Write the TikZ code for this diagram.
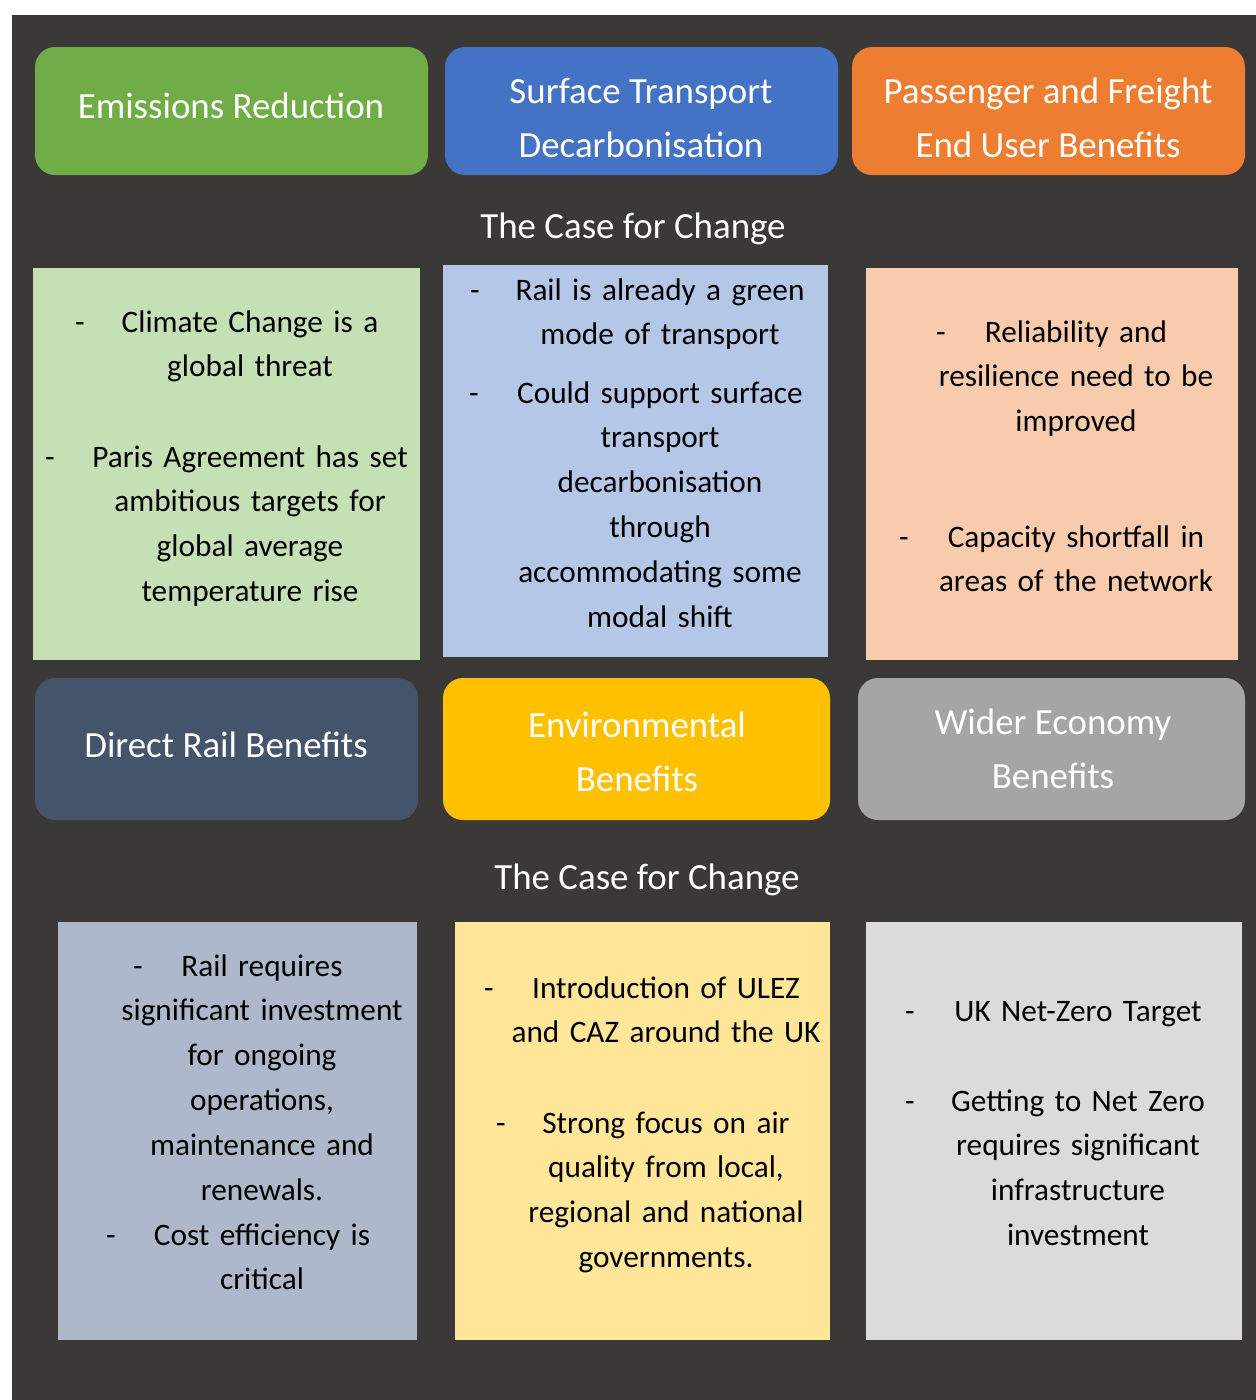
\documentclass[tikz,border=0pt]{standalone}
\usepackage{fontspec}
\setmainfont{Carlito}
\definecolor{bgdark}{HTML}{3A3937}
\definecolor{hgreen}{HTML}{70AD47}
\definecolor{hblue}{HTML}{4472C4}
\definecolor{horange}{HTML}{ED7D31}
\definecolor{hslate}{HTML}{44546A}
\definecolor{hgold}{HTML}{FFC000}
\definecolor{hgray}{HTML}{A5A5A5}
\definecolor{cgreen}{HTML}{C5E0B4}
\definecolor{cblue}{HTML}{B4C7E7}
\definecolor{corange}{HTML}{F8CBAD}
\definecolor{cslate}{HTML}{ADB9CA}
\definecolor{cgold}{HTML}{FFE699}
\definecolor{cgray}{HTML}{DBDBDB}
\tikzset{
  headbox/.style={rounded corners=0.4cm, draw=none},
  bodybox/.style={draw=none},
  headtxt/.style={text=white, align=center, font=\fontsize{21}{30.6}\selectfont, inner sep=0pt},
  titletxt/.style={text=white, anchor=base, font=\fontsize{21}{30.6}\selectfont, inner sep=0pt},
  bodytxt/.style={text=black, anchor=base, align=center, text width=7.6cm, font=\fontsize{17.8}{25.6}\selectfont, inner sep=0pt},
  dashtxt/.style={text=black, anchor=base, font=\fontsize{17.8}{25.6}\selectfont, inner sep=0pt},
}
\begin{document}
\begin{tikzpicture}[x=0.02cm,y=-0.02cm]
\useasboundingbox (0,0) rectangle (1256,1400);
\fill[white] (0,0) rectangle (1256,1400);
\fill[bgdark] (12,15) rectangle (1256,1400);

% row 1 headers
\fill[headbox, hgreen] (35,47) rectangle (428,175);
\fill[headbox, hblue] (445,47) rectangle (838,175);
\fill[headbox, horange] (852,47) rectangle (1245,175);
\node[headtxt] (h1) at (231,106) {Emissions Reduction};
\node[headtxt] (h2) at (641,118) {Surface Transport\\Decarbonisation};
\node[headtxt] (h3) at (1048,118) {Passenger and Freight\\End User Benefits};

\node[titletxt] (t1) at (633,238) {The Case for Change};

% row 2 content
\fill[bodybox, cgreen] (33,268) rectangle (420,660);
\fill[bodybox, cblue] (443,265) rectangle (828,657);
\fill[bodybox, corange] (866,268) rectangle (1238,660);

\node[dashtxt] (d1) at (80,332) {-};
\node[bodytxt] (b1) at (250,332) {Climate Change is a\\global threat};
\node[dashtxt] (d2) at (50,467) {-};
\node[bodytxt] (b2) at (250,467) {Paris Agreement has set\\ambitious targets for\\global average\\temperature rise};

\node[dashtxt] (d3) at (475,300) {-};
\node[bodytxt] (b3) at (660,300) {Rail is already a green\\mode of transport};
\node[dashtxt] (d4) at (474,403) {-};
\node[bodytxt] (b4) at (660,403) {Could support surface\\transport\\decarbonisation\\through\\accommodating some\\modal shift};

\node[dashtxt] (d5) at (941,342) {-};
\node[bodytxt] (b5) at (1076,342) {Reliability and\\resilience need to be\\improved};
\node[dashtxt] (d6) at (904,547) {-};
\node[bodytxt] (b6) at (1076,547) {Capacity shortfall in\\areas of the network};

% row 3 headers
\fill[headbox, hslate] (35,678) rectangle (418,820);
\fill[headbox, hgold] (443,678) rectangle (830,820);
\fill[headbox, hgray] (858,678) rectangle (1245,820);
\node[headtxt] (h4) at (226,745) {Direct Rail Benefits};
\node[headtxt] (h5) at (637,752) {Environmental\\Benefits};
\node[headtxt] (h6) at (1053,749) {Wider Economy\\Benefits};

\node[titletxt] (t2) at (647,889) {The Case for Change};

% row 4 content
\fill[bodybox, cslate] (58,922) rectangle (417,1340);
\fill[bodybox, cgold] (455,922) rectangle (830,1340);
\fill[bodybox, cgray] (866,922) rectangle (1242,1340);

\node[dashtxt] (d7) at (138,976) {-};
\node[bodytxt] (b7) at (262,976) {Rail requires\\significant investment\\for ongoing\\operations,\\maintenance and\\renewals.};
\node[dashtxt] (d8) at (111,1245) {-};
\node[bodytxt] (b8) at (262,1245) {Cost efficiency is\\critical};

\node[dashtxt] (d9) at (489,998) {-};
\node[bodytxt] (b9) at (666,998) {Introduction of ULEZ\\and CAZ around the UK};
\node[dashtxt] (d10) at (501,1133) {-};
\node[bodytxt] (b10) at (666,1133) {Strong focus on air\\quality from local,\\regional and national\\governments.};

\node[dashtxt] (d11) at (910,1021) {-};
\node[bodytxt] (b11) at (1078,1021) {UK Net-Zero Target};
\node[dashtxt] (d12) at (910,1111) {-};
\node[bodytxt] (b12) at (1078,1111) {Getting to Net Zero\\requires significant\\infrastructure\\investment};
\end{tikzpicture}
\end{document}
